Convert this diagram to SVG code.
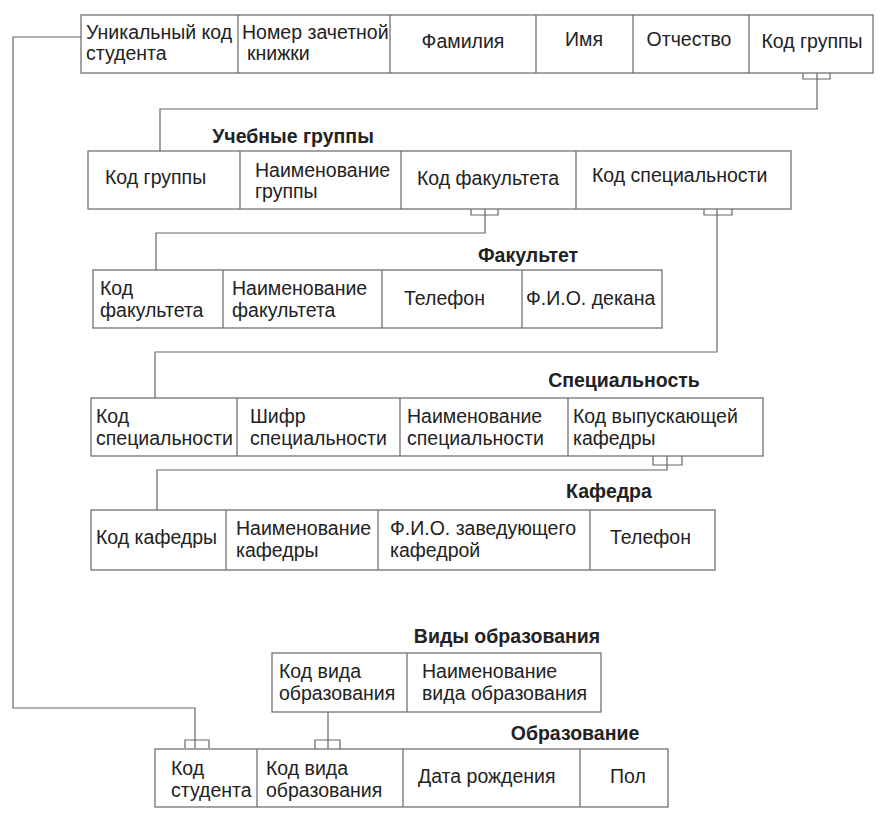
<svg xmlns="http://www.w3.org/2000/svg" width="883" height="823" viewBox="0 0 883 823">
<style>
text{font-family:"Liberation Sans",Arial,sans-serif;font-size:19.5px;fill:#222}
.t{font-weight:bold}
.b{fill:#fff;stroke:#666;stroke-width:1.2}
.d{stroke:#666;stroke-width:1.2}
.c{fill:none;stroke:#666;stroke-width:1.2}
</style>
<rect width="883" height="823" fill="#fff"/>
<g id="connectors">
<path class="c" d="M81,37 H13 V708 H195 V748"/>
<path class="c" d="M185,748 V740 H209 V748"/>
<path class="c" d="M817,73 V109 H160 V151"/>
<path class="c" d="M803,73 V79 H830 V73"/>
<path class="c" d="M485,209 V233 H156 V270"/>
<path class="c" d="M471,209 V215 H498 V209"/>
<path class="c" d="M717,209 V352 H155 V398"/>
<path class="c" d="M704,209 V215 H732 V209"/>
<path class="c" d="M667,456 V470 H157 V510"/>
<path class="c" d="M653,456 V465 H682 V456"/>
<path class="c" d="M328,712 V749"/>
<path class="c" d="M315,749 V740 H340 V749"/>
</g>
<g id="students">
<rect class="b" x="81" y="15" width="792" height="58"/>
<path class="d" d="M238,15V73M390,15V73M536,15V73M633,15V73M749,15V73"/>
<text x="86" y="39">Уникальный код</text>
<text x="86" y="60">студента</text>
<text x="242" y="39">Номер зачетной</text>
<text x="247" y="60">книжки</text>
<text x="463" y="48" text-anchor="middle">Фамилия</text>
<text x="584" y="46" text-anchor="middle">Имя</text>
<text x="689" y="46" text-anchor="middle">Отчество</text>
<text x="812" y="48" text-anchor="middle">Код группы</text>
</g>
<g id="groups">
<text class="t" x="293" y="143" text-anchor="middle">Учебные группы</text>
<rect class="b" x="88" y="151" width="703" height="58"/>
<path class="d" d="M240,151V209M401,151V209M576,151V209"/>
<text x="105" y="184">Код группы</text>
<text x="255" y="177">Наименование</text>
<text x="255" y="198">группы</text>
<text x="417" y="185">Код факультета</text>
<text x="592" y="182">Код специальности</text>
</g>
<g id="faculty">
<text class="t" x="528" y="262" text-anchor="middle">Факультет</text>
<rect class="b" x="93" y="270" width="569" height="58"/>
<path class="d" d="M223,270V328M382,270V328M522,270V328"/>
<text x="100" y="295">Код</text>
<text x="100" y="317">факультета</text>
<text x="232" y="295">Наименование</text>
<text x="232" y="317">факультета</text>
<text x="404" y="305">Телефон</text>
<text x="526" y="305">Ф.И.О. декана</text>
</g>
<g id="specialty">
<text class="t" x="624" y="387" text-anchor="middle">Специальность</text>
<rect class="b" x="91" y="398" width="672" height="58"/>
<path class="d" d="M237,398V456M400,398V456M568,398V456"/>
<text x="96" y="423">Код</text>
<text x="96" y="445">специальности</text>
<text x="250" y="423">Шифр</text>
<text x="250" y="445">специальности</text>
<text x="407" y="423">Наименование</text>
<text x="407" y="445">специальности</text>
<text x="573" y="423">Код выпускающей</text>
<text x="573" y="445">кафедры</text>
</g>
<g id="department">
<text class="t" x="609" y="498" text-anchor="middle">Кафедра</text>
<rect class="b" x="91" y="510" width="624" height="60"/>
<path class="d" d="M226,510V570M378,510V570M590,510V570"/>
<text x="96" y="544">Код кафедры</text>
<text x="236" y="535">Наименование</text>
<text x="236" y="557">кафедры</text>
<text x="390" y="535">Ф.И.О. заведующего</text>
<text x="390" y="557">кафедрой</text>
<text x="610" y="544">Телефон</text>
</g>
<g id="edu-types">
<text class="t" x="507" y="643" text-anchor="middle">Виды образования</text>
<rect class="b" x="272" y="653" width="329" height="59"/>
<path class="d" d="M407,653V712"/>
<text x="279" y="678">Код вида</text>
<text x="279" y="700">образования</text>
<text x="422" y="678">Наименование</text>
<text x="422" y="700">вида образования</text>
</g>
<g id="education">
<text class="t" x="575" y="740" text-anchor="middle">Образование</text>
<rect class="b" x="155" y="749" width="513" height="58"/>
<path class="d" d="M257,749V807M403,749V807M580,749V807"/>
<text x="171" y="775">Код</text>
<text x="171" y="797">студента</text>
<text x="266" y="775">Код вида</text>
<text x="266" y="797">образования</text>
<text x="418" y="783">Дата рождения</text>
<text x="610" y="783">Пол</text>
</g>
</svg>
